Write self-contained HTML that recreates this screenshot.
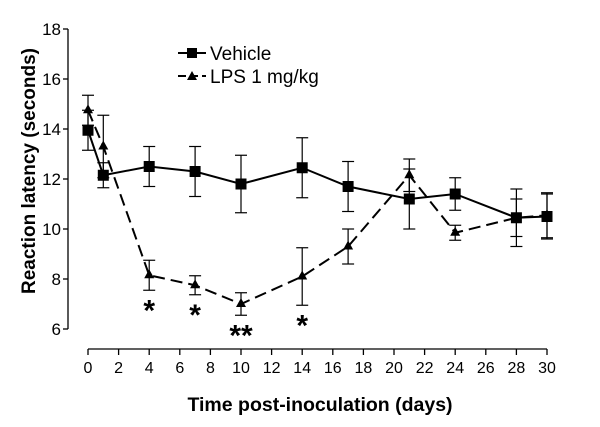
<!DOCTYPE html>
<html><head><meta charset="utf-8"><style>
body{margin:0;background:#fff}
svg{display:block;font-family:"Liberation Sans",Arial,sans-serif}
</style></head><body>
<svg id="chart" width="600" height="427" viewBox="0 0 600 427" xmlns="http://www.w3.org/2000/svg">
<g id="axes"></g>
<g id="series"></g>
<text x="320" y="411" font-size="19.5" font-weight="bold" text-anchor="middle">Time post-inoculation (days)</text>
<text transform="translate(35,171) rotate(-90)" font-size="19" font-weight="bold" text-anchor="middle">Reaction latency (seconds)</text>
<g>
<line x1="178" y1="53" x2="206" y2="53" stroke="#000" stroke-width="2"/>
<rect x="187" y="48" width="10" height="10" fill="#000"/>
<text x="210" y="60" font-size="19">Vehicle</text>
<line x1="178" y1="76" x2="206" y2="76" stroke="#000" stroke-width="2" stroke-dasharray="8,4"/>
<polygon points="192,71 197,80 187,80" fill="#000"/>
<text x="210" y="83" font-size="19">LPS 1 mg/kg</text>
</g>
</svg>
<script>
const days=[0,1,4,7,10,14,17,21,24,28,30];
const vehicle=[13.95,12.15,12.5,12.3,11.8,12.45,11.7,11.2,11.4,10.45,10.5];
const vehicleErr=[0.8,0.5,0.8,1.0,1.15,1.2,1.0,1.2,0.65,1.15,0.9];
const lps=[14.75,13.3,8.15,7.75,7.0,8.1,9.3,12.15,9.85,10.45,10.55];
const lpsErr=[0.6,1.25,0.6,0.38,0.45,1.15,0.7,0.65,0.3,0.75,0.9];
const yTicks=[6,8,10,12,14,16,18];
const xTicks=[0,2,4,6,8,10,12,14,16,18,20,22,24,26,28,30];
const stars=[{d:4,t:"*"},{d:7,t:"*"},{d:10,t:"**"},{d:14,t:"*"}];
const sx=d=>88+d*(459/30);
const sy=v=>29+(18-v)*25;
const NS="http://www.w3.org/2000/svg";
function mk(tag,attrs,parent){const e=document.createElementNS(NS,tag);for(const k in attrs)e.setAttribute(k,attrs[k]);parent.appendChild(e);return e;}
const ax=document.getElementById('axes'),se=document.getElementById('series');
let l=mk('line',{x1:68,y1:sy(18),x2:68,y2:sy(6),stroke:'#000','stroke-width':1.3},ax);


yTicks.forEach(v=>{mk('line',{x1:63,y1:sy(v),x2:68,y2:sy(v),stroke:'#000','stroke-width':1.3},ax);
const t=mk('text',{x:61,y:sy(v)+6,'font-size':17,'text-anchor':'end'},ax);t.textContent=v;

});
l=mk('line',{x1:sx(0),y1:349,x2:sx(30),y2:349,stroke:'#000','stroke-width':1.3},ax);


xTicks.forEach(d=>{mk('line',{x1:sx(d),y1:349,x2:sx(d),y2:355,stroke:'#000','stroke-width':1.3},ax);
const t=mk('text',{x:sx(d),y:373,'font-size':16,'text-anchor':'middle'},ax);t.textContent=d;

});
function series(vals,errs,dash,name,marker){
const g=mk('g',{},se);


mk('polyline',{points:days.map((d,i)=>sx(d)+','+sy(vals[i])).join(' '),fill:'none',stroke:'#000','stroke-width':2,'stroke-dasharray':dash},g);
days.forEach((d,i)=>{const x=sx(d),y1=sy(vals[i]+errs[i]),y2=sy(vals[i]-errs[i]);
mk('line',{x1:x,y1:y1,x2:x,y2:y2,stroke:'#000','stroke-width':1.2},g);
mk('line',{x1:x-6,y1:y1,x2:x+6,y2:y1,stroke:'#000','stroke-width':1.2},g);
mk('line',{x1:x-6,y1:y2,x2:x+6,y2:y2,stroke:'#000','stroke-width':1.2},g);
const y=sy(vals[i]);
if(marker==='sq')mk('rect',{x:x-5.5,y:y-5.5,width:11,height:11,fill:'#000'},g);
else mk('polygon',{points:`${x},${y-6} ${x+5},${y+3} ${x-5},${y+3}`,fill:'#000'},g);});
}
series(vehicle,vehicleErr,'none','vehicle-series','sq');
series(lps,lpsErr,'12,6','lps-series','tri');
stars.forEach(s=>{const i=days.indexOf(s.d);const t=mk('text',{x:sx(s.d),y:sy(lps[i]-lpsErr[i])+30,'font-size':30,'font-weight':'bold','text-anchor':'middle'},se);t.textContent=s.t;

});
</script>
</body></html>
